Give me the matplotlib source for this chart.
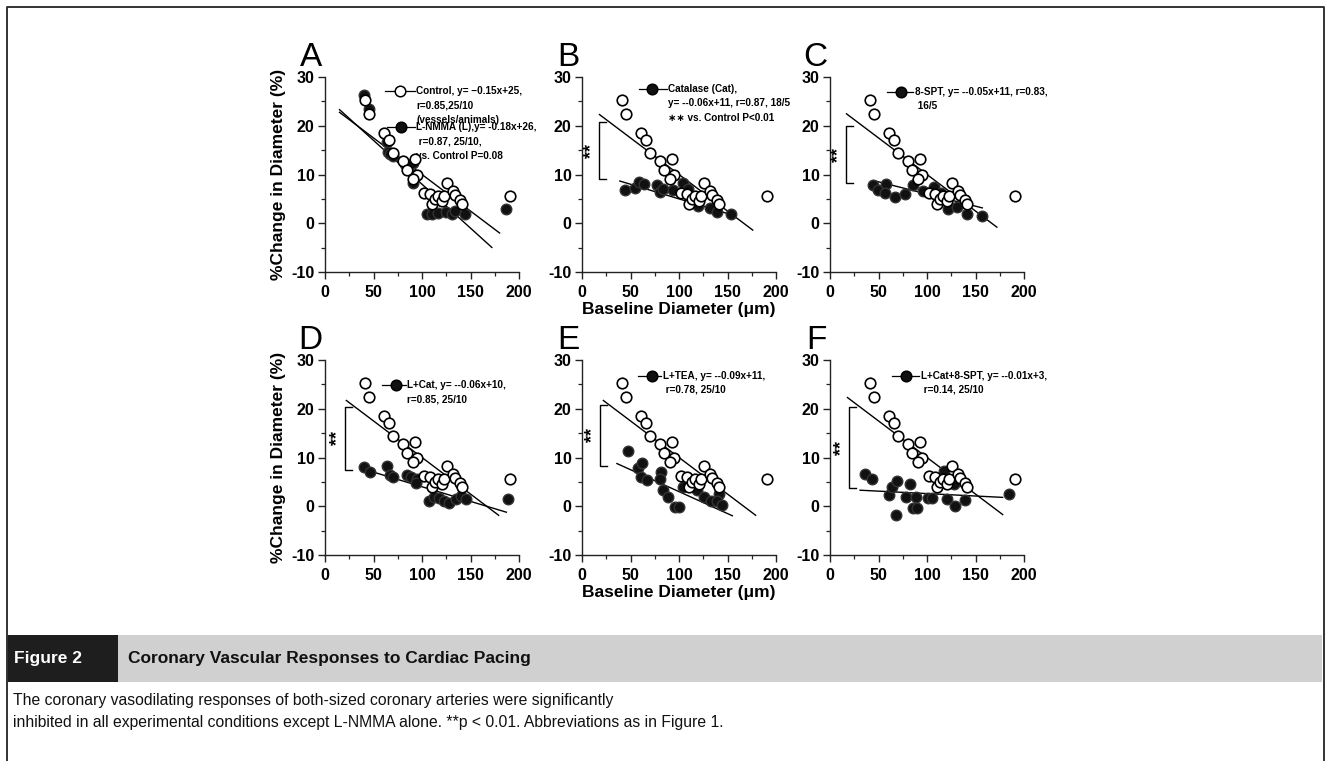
import matplotlib
matplotlib.use('Agg')
import matplotlib.pyplot as plt
from matplotlib.patches import Rectangle

plt.rcParams['font.family'] = ['Liberation Sans', 'DejaVu Sans']
plt.rcParams['axes.unicode_minus'] = False

W, H = 1327, 761

# ---------------- data ----------------
PANELS = ['A', 'B', 'C', 'D', 'E', 'F']

# control group (open circles), replotted in every panel
CTRL_X = [41, 45, 60.5, 65.5, 70.5, 80.5, 92.5, 84.5, 94.5, 90.5, 102.5, 108.5, 110.5,
          113, 116.5, 120.5, 123, 126, 131.5, 134.5, 139.5, 141, 190.5]
CTRL_Y = [25.2, 22.5, 18.5, 17.1, 14.5, 12.7, 13.2, 11.0, 10.0, 9.1, 6.2, 5.9, 4.0,
          5.0, 5.6, 4.6, 5.5, 8.3, 6.7, 5.8, 4.8, 4.0, 5.5]

# treatment groups (filled circles)
A_X = [40.5, 45.4, 63.6, 65.3, 67, 70.4, 82.5, 91, 92, 91, 105, 110, 116, 125, 130.6, 134, 144, 187]
A_Y = [26.4, 23.4, 16.7, 14.7, 14.3, 13.7, 12.1, 12.3, 9.9, 8.2, 2.0, 2.0, 2.2, 2.4, 1.9, 2.5, 2.0, 2.9]
B_X = [44.4, 54.7, 59.2, 64, 77, 80.4, 83.8, 94.1, 103.7, 109.5, 119.8, 131.8, 139.4, 154]
B_Y = [6.9, 7.3, 8.4, 8.1, 7.9, 6.4, 7.1, 6.8, 8.3, 7.0, 3.5, 3.1, 2.4, 2.0]
C_X = [44.3, 49.5, 57.4, 56.4, 66.7, 77.7, 85.1, 96, 107, 114, 121.9, 131.3, 140.9, 156.3]
C_Y = [7.9, 6.9, 8.0, 6.3, 5.4, 5.9, 7.9, 6.7, 7.4, 6.2, 3.0, 3.3, 2.0, 1.5]
D_X = [40.2, 46, 64.3, 66.7, 70.1, 84.9, 88.3, 95.2, 93.5, 107.2, 112.4, 117.5, 122.7,
       127.8, 134.7, 139.9, 145, 189]
D_Y = [8.05, 7.0, 8.2, 6.5, 5.9, 6.4, 5.9, 5.6, 4.8, 1.0, 2.0, 1.7, 1.0, 0.6, 1.4, 2.1, 1.4, 1.4]
E_X = [47.4, 57.4, 61.9, 60.8, 67, 81.4, 80.8, 83.2, 88.3, 95.9, 100.4, 103.8, 118.6,
       125.4, 133, 141.6, 139.2, 144]
E_Y = [11.4, 7.8, 8.9, 6.0, 5.3, 7.1, 5.6, 3.3, 2.0, -0.2, -0.2, 3.9, 3.3, 1.8, 1.0, 2.5, 1.0, 0.3]
F_X = [36.4, 43.3, 60.5, 63.9, 68.7, 68.1, 78.4, 82.5, 88.7, 86, 89.4, 101.4, 104.8,
       117.5, 128.3, 120.4, 129, 139.3, 184.5]
F_Y = [6.6, 5.6, 2.3, 3.9, 5.2, -1.7, 1.9, 4.6, 1.9, -0.4, -0.3, 1.6, 1.6, 7.3, 4.5, 1.4, 0.0, 1.3, 2.6]
TREAT_X = [A_X, B_X, C_X, D_X, E_X, F_X]
TREAT_Y = [A_Y, B_Y, C_Y, D_Y, E_Y, F_Y]

# regression lines as drawn
CTRL_SLOPE, CTRL_INTERCEPT = -0.15, 25.0
CTRL_FIT_X0 = [15, 18, 17, 22, 22, 18]
CTRL_FIT_X1 = [180, 176, 172, 179, 179, 178]
FIT_SLOPE = [-0.18, -0.06, -0.05, -0.06, -0.09, -0.01]
FIT_INTERCEPT = [26, 11, 11, 10, 12, 3.6]
FIT_X0 = [15, 39, 45, 38, 36, 31]
FIT_X1 = [172, 150, 157, 187, 155, 178]

# significance brackets (y range, None = no bracket)
BRACKET_TOP = [None, 20.7, 20.0, 20.4, 20.8, 20.3]
BRACKET_BOT = [None, 9.0, 8.2, 7.4, 8.3, 3.8]

# legend texts
LEGENDS = [
    [(False, ["Control, y= \u22120.15x+25,", "r=0.85,25/10", "(vessels/animals)"]),
     (True, ["L-NMMA (L),y= -0.18x+26,", " r=0.87, 25/10,", "vs. Control P=0.08"])],
    [(True, ["Catalase (Cat),", "y= --0.06x+11, r=0.87, 18/5", "\u2217\u2217 vs. Control P<0.01"])],
    [(True, ["8-SPT, y= --0.05x+11, r=0.83,", " 16/5"])],
    [(True, ["L+Cat, y= --0.06x+10,", "r=0.85, 25/10"])],
    [(True, ["L+TEA, y= --0.09x+11,", " r=0.78, 25/10"])],
    [(True, ["L+Cat+8-SPT, y= --0.01x+3,", " r=0.14, 25/10"])],
]

XTICKS = [0, 50, 100, 150, 200]
YTICKS = [-10, 0, 10, 20, 30]
YLABEL = "%Change in Diameter (%)"
XLABEL = "Baseline Diameter (\u03bcm)"
FIG_LABEL = "Figure 2"
FIG_TITLE = "Coronary Vascular Responses to Cardiac Pacing"
CAPTION = ["The coronary vasodilating responses of both-sized coronary arteries were significantly",
           "inhibited in all experimental conditions except L-NMMA alone. **p < 0.01. Abbreviations as in Figure 1."]

# ---------------- layout (pixels) ----------------
COL_LEFT = [325, 582, 830]
ROW_TOP = [77, 360]
AX_W, AX_H = 194, 195
# legend anchor per entry: (handle x0, handle x1, marker x, text x, y)
LEG_POS = [
    [(62, 93, 77, 94, 27.1), (63.6, 92.8, 78.4, 94, 19.7)],
    [(58.8, 87.9, 71.9, 89, 27.5)],
    [(58.4, 86, 72.9, 87.6, 26.9)],
    [(59, 83, 73.5, 84.8, 24.9)],
    [(57.4, 81.4, 72.2, 83.1, 26.8)],
    [(63.6, 91.8, 78.7, 93.5, 26.8)],
]
BRACKET_X = [None, 17.8, 16.5, 20.6, 18.9, 19.6]


def frac_rect(l, t, w, h):
    return [l / W, 1 - (t + h) / H, w / W, h / H]


fig = plt.figure(figsize=(W / 100, H / 100), dpi=100)
fig.patch.set_facecolor('white')

MS = 7.6
for i, name in enumerate(PANELS):
    row, col = divmod(i, 3)
    left, top = COL_LEFT[col], ROW_TOP[row]
    ax = fig.add_axes(frac_rect(left, top, AX_W, AX_H))
    ax.set_xlim(0, 200)
    ax.set_ylim(-10, 30)
    for s in ['top', 'right']:
        ax.spines[s].set_visible(False)
    for s in ['left', 'bottom']:
        ax.spines[s].set_linewidth(1.0)
        ax.spines[s].set_color('#222222')
    ax.set_xticks(XTICKS)
    ax.set_yticks(YTICKS)
    ax.set_xticks([25, 75, 125, 175], minor=True)
    ax.set_yticks([-5, 5, 15, 25], minor=True)
    ax.tick_params(which='major', direction='out', length=5, width=1.0, labelsize=11.5, color='#222222')
    ax.tick_params(which='minor', direction='out', length=3, width=0.9, color='#222222')
    ax.tick_params(axis='x', pad=4.5)
    ax.tick_params(axis='y', pad=2.5)
    for lab in ax.get_xticklabels() + ax.get_yticklabels():
        lab.set_fontweight('bold')

    # regression lines
    x0, x1 = CTRL_FIT_X0[i], CTRL_FIT_X1[i]
    ax.plot([x0, x1], [CTRL_SLOPE * x0 + CTRL_INTERCEPT, CTRL_SLOPE * x1 + CTRL_INTERCEPT],
            color='black', lw=1.0, zorder=2, clip_on=False)
    x0, x1 = FIT_X0[i], FIT_X1[i]
    ax.plot([x0, x1], [FIT_SLOPE[i] * x0 + FIT_INTERCEPT[i], FIT_SLOPE[i] * x1 + FIT_INTERCEPT[i]],
            color='black', lw=1.0, zorder=2, clip_on=False)

    # points
    ax.plot(TREAT_X[i], TREAT_Y[i], 'o', ms=MS, mfc='#111111', mec='#333333', mew=1.0,
            zorder=3, clip_on=False)
    ax.plot(CTRL_X, CTRL_Y, 'o', ms=MS, mfc='white', mec='black', mew=1.2,
            zorder=4, clip_on=False)

    # bracket
    if BRACKET_TOP[i] is not None:
        bx = BRACKET_X[i]
        ax.plot([bx + 7, bx, bx, bx + 7], [BRACKET_TOP[i], BRACKET_TOP[i], BRACKET_BOT[i], BRACKET_BOT[i]],
                color='black', lw=1.0, zorder=2)
        ax.text(bx - 8, (BRACKET_TOP[i] + BRACKET_BOT[i]) / 2, "**", rotation=90,
                ha='center', va='center', fontsize=13, fontweight='bold')

    # legend
    for (filled, lines), (hx0, hx1, mx, tx, ty) in zip(LEGENDS[i], LEG_POS[i]):
        ax.plot([hx0, hx1], [ty, ty], color='black', lw=0.9, zorder=5, clip_on=False)
        ax.plot([mx], [ty], 'o', ms=MS, mfc='#111111' if filled else 'white',
                mec='black', mew=1.1, zorder=6, clip_on=False)
        for k, line in enumerate(lines):
            ax.annotate(line, xy=(tx, ty), xytext=(0, -k * 10.3), textcoords='offset points',
                        ha='left', va='center', fontsize=7.2, fontweight='bold', zorder=1)

    # panel letter
    fig.text((left - 3) / W, 1 - (top - 11) / H, name, ha='right', va='baseline',
             fontsize=24, color='black')

    if col == 0:
        fig.text((left - 47) / W, 1 - (top + AX_H / 2) / H, YLABEL, rotation=90,
                 ha='center', va='center', fontsize=12.5, fontweight='bold')
    if col == 1:
        fig.text((left + AX_W / 2) / W, 1 - (top + AX_H + 38) / H, XLABEL,
                 ha='center', va='center', fontsize=12.5, fontweight='bold')

# ---------------- caption ----------------
NARROW = ['Liberation Sans Narrow', 'Liberation Sans']
cap = fig.add_axes([0, 0, 1, 1], zorder=-1)
cap.set_xlim(0, W)
cap.set_ylim(H, 0)
cap.axis('off')
cap.plot([7, 7, 1324, 1324], [761, 7, 7, 761], color='#333333', lw=1.4)
cap.add_patch(Rectangle((7, 635), 1315, 47, facecolor='#d0d0d0', edgecolor='none'))
cap.add_patch(Rectangle((7, 635), 111, 47, facecolor='#1e1e1e', edgecolor='none'))
cap.text(14, 659, FIG_LABEL, color='white', fontsize=12.5, fontweight='bold',
         ha='left', va='center', family=NARROW)
cap.text(128, 659, FIG_TITLE, color='#111111', fontsize=12.5, fontweight='bold',
         ha='left', va='center', family=NARROW)
cap.text(13, 700, CAPTION[0], fontsize=11.3, ha='left', va='center', color='#111111',
         family=NARROW)
cap.text(13, 723, CAPTION[1], fontsize=11.3, ha='left', va='center', color='#111111',
         family=NARROW)

fig.savefig('out.png', dpi=100)
